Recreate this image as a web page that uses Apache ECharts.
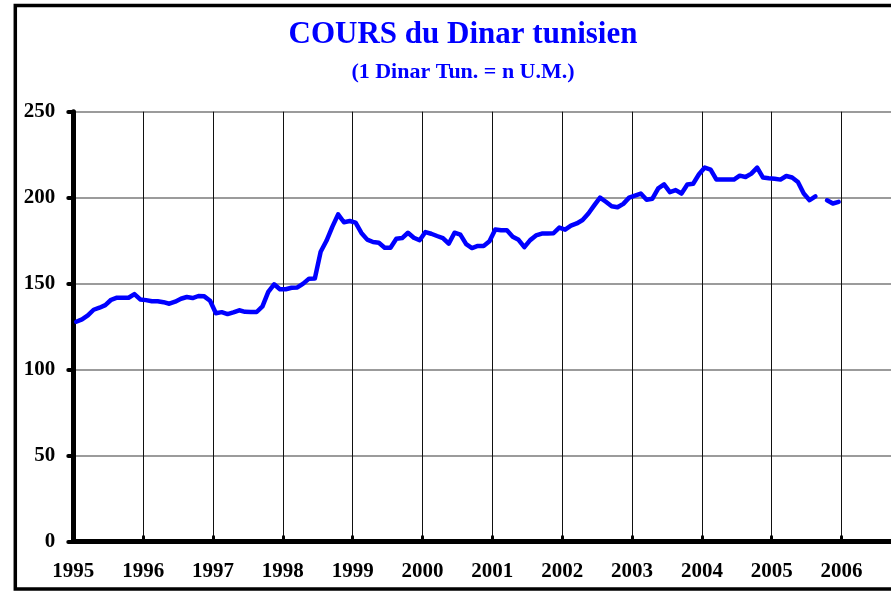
<!DOCTYPE html>
<html>
<head>
<meta charset="utf-8">
<script src="https://cdn.jsdelivr.net/npm/echarts@6/dist/echarts.min.js"></script>
<style>
  html, body { margin: 0; padding: 0; background: #fff; overflow: hidden; width: 891px; height: 591px; }
  #chart { width: 960px; height: 591px; }
</style>
</head>
<body>
<div id="chart"></div>
<script>
const titleText = 'COURS du Dinar tunisien';
const subtitleText = '(1 Dinar Tun. = n U.M.)';
const yearLabels = ['1995','1996','1997','1998','1999','2000','2001','2002','2003','2004','2005','2006','2007'];
const yTicks = [0, 50, 100, 150, 200, 250];

// monthly values (Jan..Dec), plotted at mid-month
const v1995 = [127.8, 129.2, 131.5, 134.8, 136.0, 137.5, 140.6, 141.8, 141.8, 141.8, 143.9, 140.8];
const v1996 = [140.4, 139.7, 139.7, 139.2, 138.3, 139.5, 141.2, 142.2, 141.6, 142.8, 142.6, 140.0];
const v1997 = [132.8, 133.4, 132.3, 133.3, 134.5, 133.6, 133.5, 133.5, 136.8, 145.2, 149.6, 146.7];
const v1998 = [146.7, 147.6, 147.8, 150.0, 152.9, 153.0, 168.5, 174.9, 183.0, 190.3, 185.7, 186.4];
const v1999 = [185.5, 179.5, 175.6, 174.2, 173.8, 170.9, 170.9, 176.1, 176.5, 179.6, 176.7, 175.2];
const v2000 = [180.0, 179.0, 177.7, 176.5, 173.2, 179.6, 178.5, 173.0, 170.7, 171.9, 171.9, 174.6];
const v2001 = [181.5, 181.0, 181.0, 177.3, 175.5, 171.2, 175.3, 178.0, 179.1, 179.1, 179.3, 182.6];
const v2002 = [181.4, 183.7, 185.0, 187.0, 190.8, 195.5, 200.0, 197.6, 195.0, 194.4, 196.4, 200.0];
const v2003 = [201.2, 202.4, 198.8, 199.4, 205.4, 207.7, 203.2, 204.4, 202.4, 207.7, 208.1, 213.6];
const v2004 = [217.5, 216.3, 210.5, 210.5, 210.5, 210.5, 212.8, 212.0, 214.0, 217.5, 211.7, 211.3];
const v2005 = [211.0, 210.5, 212.6, 211.7, 209.1, 202.4, 198.5, 200.8, null, 198.5, 196.6, 197.6];

const monthly = [].concat(v1995, v1996, v1997, v1998, v1999, v2000, v2001, v2002, v2003, v2004, v2005);
const seriesData = monthly.map((v, i) => [i + 0.5, v == null ? '-' : v]);

const FONT = '"Liberation Serif", "Times New Roman", serif';

const chart = echarts.init(document.getElementById('chart'), null, { renderer: 'canvas' });
chart.setOption({
  animation: false,
  backgroundColor: '#ffffff',
  grid: {
    left: 73.3, top: 111.7, right: 25.3, bottom: 49.5,
    containLabel: false, outerBoundsMode: 'none'
  },
  graphic: [
    {
      type: 'rect', z: 100, silent: true,
      shape: { x: 15.3, y: 5.5, width: 940, height: 583.5 },
      style: { fill: 'rgba(0,0,0,0)', stroke: '#000', lineWidth: 3.5 }
    },
    {
      type: 'text', z: 100, x: 463, y: 35, silent: true,
      style: {
        text: titleText, fill: '#0000ff',
        font: 'bold 31px ' + FONT,
        align: 'center', verticalAlign: 'middle',
        textAlign: 'center', textVerticalAlign: 'middle'
      }
    },
    {
      type: 'text', z: 100, x: 463, y: 72, silent: true,
      style: {
        text: subtitleText, fill: '#0000ff',
        font: 'bold 22px ' + FONT,
        align: 'center', verticalAlign: 'middle',
        textAlign: 'center', textVerticalAlign: 'middle'
      }
    }
  ],
  xAxis: {
    type: 'value', min: 0, max: 148, interval: 12,
    axisLine: { show: true, onZero: false, lineStyle: { color: '#000', width: 5, cap: 'round' } },
    axisTick: { show: true, inside: true, length: 5, lineStyle: { color: '#000', width: 3, cap: 'round' } },
    axisLabel: {
      show: true, margin: 20, color: '#000',
      fontFamily: FONT, fontWeight: 'bold', fontSize: 21,
      formatter: (v) => (v % 12 === 0 ? (yearLabels[v / 12] || '') : '')
    },
    splitLine: { show: true, lineStyle: { color: '#111', width: 1 } }
  },
  yAxis: {
    type: 'value', min: yTicks[0], max: yTicks[yTicks.length - 1], interval: 50,
    axisLine: { show: true, onZero: false, lineStyle: { color: '#000', width: 5, cap: 'round' } },
    axisTick: { show: true, inside: false, length: 5, lineStyle: { color: '#000', width: 4, cap: 'round' } },
    axisLabel: {
      show: true, margin: 18, color: '#000',
      fontFamily: FONT, fontWeight: 'bold', fontSize: 21
    },
    splitLine: { show: true, lineStyle: { color: '#7a7a7a', width: 1.5 } }
  },
  series: [{
    type: 'line',
    data: seriesData,
    symbol: 'none',
    connectNulls: false,
    lineStyle: { color: '#0000ff', width: 4.5, cap: 'round', join: 'round' },
    z: 3
  }]
});
</script>
</body>
</html>
